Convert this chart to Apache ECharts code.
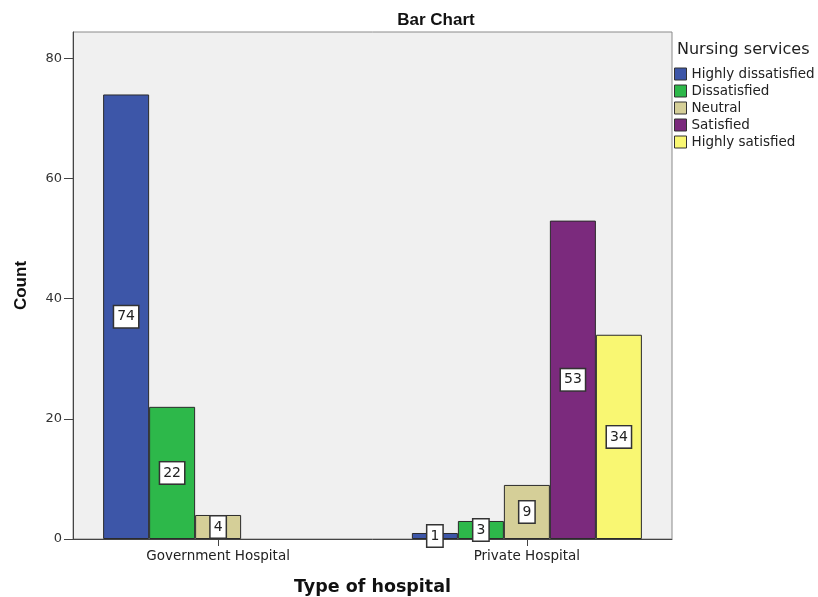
<!DOCTYPE html>
<html>
<head>
<meta charset="utf-8">
<script src="https://cdn.jsdelivr.net/npm/echarts@6/dist/echarts.min.js"></script>
<style>
  html, body { margin: 0; padding: 0; background: #ffffff; }
  #chart { width: 818px; height: 597px; }
</style>
</head>
<body>
<div id="chart"></div>
<script>
// Hospital types along the x axis
const hospitals = ['Government Hospital', 'Private Hospital'];
// Satisfaction levels (legend entries)
const levels = ['Highly dissatisfied', 'Dissatisfied', 'Neutral', 'Satisfied', 'Highly satisfied'];
// Counts per level, one value per hospital type (null = no bar)
const highlyDissatisfied = [74, 1];
const dissatisfied = [22, 3];
const neutral = [4, 9];
const satisfied = [null, 53];
const highlySatisfied = [null, 34];
// Count axis ticks
const countTicks = [0, 20, 40, 60, 80];

const levelValues = [highlyDissatisfied, dissatisfied, neutral, satisfied, highlySatisfied];
const levelColors = ['#3d56a8', '#2db84a', '#d5cf98', '#7b2a7d', '#f9f772'];

const SANS = 'DejaVu Sans, Verdana, sans-serif';
const BOLD = 'Liberation Sans, Arial, sans-serif';

const chart = echarts.init(document.getElementById('chart'), null, { renderer: 'canvas' });

const series = levels.map((name, i) => ({
  name: name,
  type: 'bar',
  barWidth: 46,
  barGap: '0%',
  data: levelValues[i].map((v, j) => (v === null ? null : [j, v])),
  itemStyle: { color: levelColors[i], borderColor: '#2b2b2b', borderWidth: 1 },
  label: {
    show: true,
    position: 'inside',
    formatter: p => String(p.value[1]),
    color: '#222',
    fontFamily: SANS,
    fontSize: 14,
    backgroundColor: '#ffffff',
    borderColor: '#333',
    borderWidth: 1.5,
    padding: [4, 3, 3, 3]
  },
  emphasis: { disabled: true },
  animation: false
}));

chart.setOption({
  animation: false,
  textStyle: { fontFamily: SANS },
  title: [
    {
      text: 'Bar Chart',
      left: 431,
      top: 7,
      textAlign: 'center',
      textStyle: { fontFamily: BOLD, fontSize: 17, fontWeight: 'bold', color: '#111' }
    },
    {
      text: 'Nursing services',
      left: 672,
      top: 37,
      textStyle: { fontFamily: SANS, fontSize: 16, fontWeight: 'normal', color: '#222' }
    }
  ],
  legend: {
    orient: 'vertical',
    left: 674,
    top: 67,
    padding: 0,
    itemWidth: 12,
    itemHeight: 12,
    itemGap: 3,
    icon: 'rect',
    data: levels,
    itemStyle: { borderColor: '#333', borderWidth: 1 },
    textStyle: { fontFamily: SANS, fontSize: 13.5, color: '#222', padding: 0 },
    selectedMode: false
  },
  grid: {
    left: 73,
    right: 146,
    top: 32,
    bottom: 58,
    outerBoundsMode: 'none',
    containLabel: false,
    show: true,
    backgroundColor: '#f0f0f0',
    borderColor: '#8a8a8a',
    borderWidth: 1
  },
  xAxis: {
    type: 'value',
    min: -0.47,
    max: 1.47,
    name: 'Type of hospital',
    nameLocation: 'middle',
    nameGap: 39,
    nameTextStyle: { fontFamily: SANS, fontSize: 17.5, fontWeight: 'bold', color: '#111' },
    axisLine: { show: true, lineStyle: { color: '#444', width: 1 } },
    axisTick: { show: true, length: 7, inside: false, lineStyle: { color: '#444' }, customValues: [0, 1] },
    axisLabel: {
      customValues: [0, 1],
      formatter: v => hospitals[Math.round(v)],
      fontFamily: SANS,
      fontSize: 13.5,
      color: '#222',
      margin: 10
    },
    splitLine: { show: false }
  },
  yAxis: {
    type: 'value',
    min: 0,
    max: 84.4,
    name: 'Count',
    nameLocation: 'middle',
    nameGap: 43,
    nameRotate: 90,
    nameTextStyle: { fontFamily: BOLD, fontSize: 17, fontWeight: 'bold', color: '#111' },
    axisLine: { show: true, onZero: false, lineStyle: { color: '#444', width: 1 } },
    axisTick: { show: true, length: 9, lineStyle: { color: '#444' }, customValues: countTicks },
    axisLabel: { customValues: countTicks, fontFamily: SANS, fontSize: 13, color: '#333', margin: 11 },
    splitLine: { show: false }
  },
  series: series
});
</script>
</body>
</html>
